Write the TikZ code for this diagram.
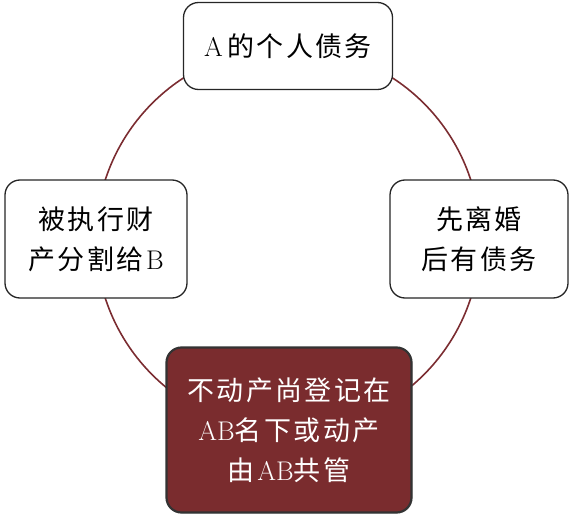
\documentclass[tikz,border=0pt]{standalone}
\usepackage{fontspec}
\newfontfamily\cjk[LetterSpace=9]{Noto Sans CJK SC}
\usepackage{tikz}
\usetikzlibrary{shadows, positioning}
\definecolor{ringred}{HTML}{7B2C31}
\definecolor{boxred}{HTML}{7A2C2E}
\tikzset{
    ring/.style = {draw=ringred, line width=1.6pt},
    case/.style = {rectangle, rounded corners=15pt, draw=black!85, line width=1.3pt, fill=white, align=center,
                   font=\cjk\fontsize{27}{40}\selectfont, inner sep=2pt},
    hot/.style = {case, fill=boxred, text=white, draw=black!80, line width=2.2pt,
                  drop shadow={opacity=0.35, shadow xshift=1pt, shadow yshift=-1pt}}
}
\begin{document}
\begin{tikzpicture}[x=1pt, y=-1pt]
    \useasboundingbox (0,0) rectangle (573,516);
    \coordinate (ctr) at (288,239);
    \draw[ring] (ctr) circle (192pt);
    \node[case, minimum width=209pt, minimum height=87pt] (debt) at (288,46) {\textrm{A}\,的个人债务};
    \node[case, minimum width=182pt, minimum height=118pt] (exec) at (96,239) {被执行财\\产分割给\textrm{B}};
    \node[case, minimum width=178pt, minimum height=118pt] (div) at (479,239) {先离婚\\后有债务};
    \node[hot, minimum width=245pt, minimum height=165pt] (land) at (289,430) {不动产尚登记在\\\textrm{AB}名下或动产\\由\textrm{AB}共管};
\end{tikzpicture}
\end{document}
